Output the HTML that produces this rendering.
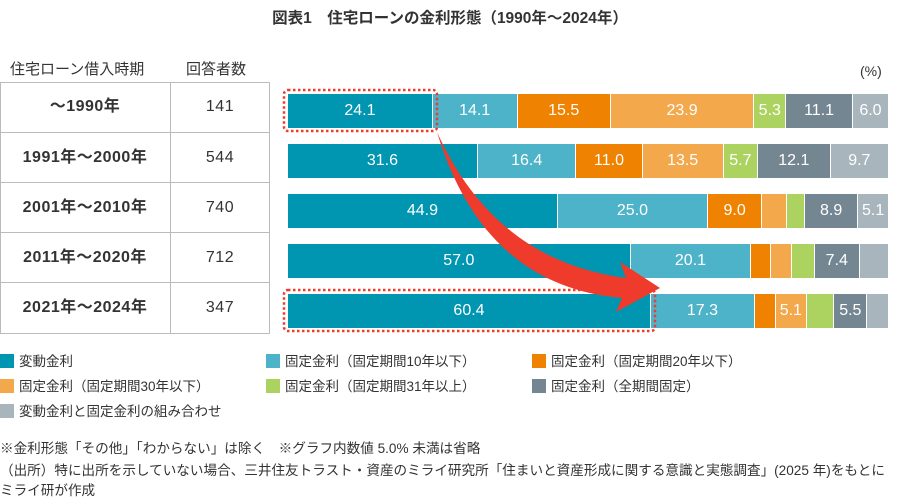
<!DOCTYPE html>
<html><head><meta charset="utf-8"><style>
body{margin:0;width:900px;height:504px;background:#fff;position:relative;font-family:"Liberation Sans","Noto Sans CJK JP",sans-serif;color:#333;overflow:hidden}
.a{position:absolute}
.seg{position:absolute;height:34px;color:#fff;font-size:16px;display:flex;align-items:center;justify-content:center;box-sizing:border-box;border-right:1px solid #fff;font-family:"Liberation Sans Narrow","Liberation Sans",sans-serif}
.tb{position:absolute;left:0;top:82px;width:270px;height:252px;border:1px solid #bbb;box-sizing:border-box}
.row{position:absolute;left:0;width:270px;height:50px;font-size:16px;font-weight:bold;color:#333}
.row div{position:absolute;top:0;height:50px;line-height:50px;text-align:center;letter-spacing:0.5px}
.lg{position:absolute;font-size:13.5px;line-height:15px}
.lg i{display:inline-block;width:14px;height:14px;vertical-align:-2px;margin-right:5px}
.nt{position:absolute;left:0;font-size:13.6px;color:#333;white-space:nowrap}
</style></head><body>
<div class="a" style="left:0;width:900px;top:6px;text-align:center;font-size:15.5px;font-weight:bold">図表1　住宅ローンの金利形態（1990年～2024年）</div>
<div class="a" style="left:10px;top:58px;font-size:15px">住宅ローン借入時期</div>
<div class="a" style="left:186px;top:58px;font-size:15px">回答者数</div>
<div class="a" style="left:860px;top:63px;font-size:14px">(%)</div>
<div class="tb"></div>
<div class="a" style="left:170px;top:82px;width:1px;height:252px;background:#bbb"></div>
<div id="rows"></div>
<div id="bars"></div>
<svg class="a" style="left:0;top:0" width="900" height="504">
<path d="M437,132 C480,228 550,268 626,278 L620,262 L660,288 L616,312 L622,298 C530,290 468,235 437,132 Z" fill="#ef3b2c"/>
<rect x="284" y="90" width="153" height="41" rx="4" fill="none" stroke="#ef3b2c" stroke-width="2.5" stroke-dasharray="2.5 2.5"/>
<rect x="284" y="290" width="371" height="41" rx="4" fill="none" stroke="#ef3b2c" stroke-width="2.5" stroke-dasharray="2.5 2.5"/>
</svg>
<div class="lg" style="left:0;top:354px"><i style="background:#0095b0"></i>変動金利</div>
<div class="lg" style="left:266px;top:354px"><i style="background:#4db3c8"></i>固定金利（固定期間10年以下）</div>
<div class="lg" style="left:532px;top:354px"><i style="background:#ef8200"></i>固定金利（固定期間20年以下）</div>
<div class="lg" style="left:0;top:379px"><i style="background:#f3a84c"></i>固定金利（固定期間30年以下）</div>
<div class="lg" style="left:266px;top:379px"><i style="background:#acd360"></i>固定金利（固定期間31年以上）</div>
<div class="lg" style="left:532px;top:379px"><i style="background:#758693"></i>固定金利（全期間固定）</div>
<div class="lg" style="left:0;top:404px"><i style="background:#a9b5bd"></i>変動金利と固定金利の組み合わせ</div>
<div class="nt" style="top:437px">※金利形態「その他」「わからない」は除く　※グラフ内数値 5.0% 未満は省略</div>
<div class="nt" style="top:459px">（出所）特に出所を示していない場合、三井住友トラスト・資産のミライ研究所「住まいと資産形成に関する意識と実態調査」(2025 年)をもとに</div>
<div class="nt" style="top:479px">ミライ研が作成</div>
<script>
var C=["#0095b0","#4db3c8","#ef8200","#f3a84c","#acd360","#758693","#a9b5bd"];
var D=[[24.1,14.1,15.5,23.9,5.3,11.1,6.0],[31.6,16.4,11.0,13.5,5.7,12.1,9.7],[44.9,25.0,9.0,4.2,2.9,8.9,5.1],[57.0,20.1,3.2,3.5,3.9,7.4,4.9],[60.4,17.3,3.5,5.1,4.6,5.5,3.6]];
var L=[["～1990年","141"],["1991年～2000年","544"],["2001年～2010年","740"],["2011年～2020年","712"],["2021年～2024年","347"]];
var h="",r="";
D.forEach(function(row,i){var y=94+i*50,x=288,s=row.reduce(function(a,b){return a+b},0);
row.forEach(function(v,j){var w=v/s*601;h+='<div class="seg" style="left:'+x+'px;top:'+y+'px;width:'+w+'px;background:'+C[j]+'">'+(v>=5?v.toFixed(1):'')+'</div>';x+=w;});
r+='<div class="row" style="top:'+(82+i*50)+'px'+(i>0?';border-top:1px solid #bbb':'')+'"><div style="left:0;width:170px">'+L[i][0]+'</div><div style="left:170px;width:100px;font-weight:normal">'+L[i][1]+'</div></div>';});
document.getElementById("bars").innerHTML=h;document.getElementById("rows").innerHTML=r;
</script>
</body></html>
